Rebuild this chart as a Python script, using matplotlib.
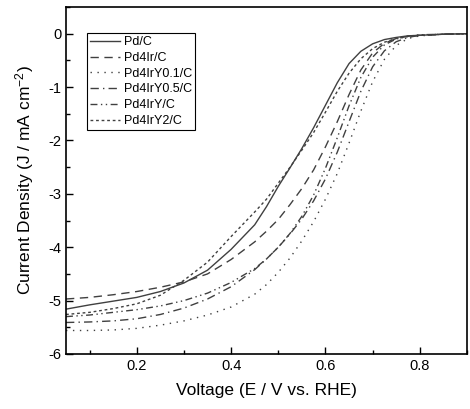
import numpy as np
import matplotlib
matplotlib.use("Agg")
import matplotlib.pyplot as plt
from matplotlib.ticker import MultipleLocator

plt.rcParams['font.family'] = ['Liberation Sans', 'DejaVu Sans']
plt.rcParams['axes.unicode_minus'] = False
plt.rcParams['mathtext.fontset'] = 'custom'
plt.rcParams['mathtext.rm'] = 'Liberation Sans'
plt.rcParams['mathtext.it'] = 'Liberation Sans'

# voltage grid (V vs. RHE)
voltage = [0.05, 0.1, 0.15, 0.2, 0.25, 0.3, 0.35, 0.4, 0.45, 0.475, 0.5, 0.525,
           0.55, 0.575, 0.6, 0.625, 0.65, 0.675, 0.7, 0.725, 0.75, 0.775, 0.8, 0.85, 0.9]

# current density (mA cm-2)
pd_c = [-5.16, -5.08, -5.01, -4.94, -4.83, -4.67, -4.43, -4.04, -3.58, -3.24, -2.86, -2.51,
        -2.15, -1.76, -1.34, -0.92, -0.56, -0.33, -0.19, -0.11, -0.07, -0.04, -0.03, -0.01, 0.0]
pd4ir_c = [-4.97, -4.94, -4.89, -4.83, -4.75, -4.65, -4.50, -4.23, -3.90, -3.70, -3.48, -3.20,
           -2.90, -2.55, -2.12, -1.65, -1.14, -0.68, -0.36, -0.18, -0.09, -0.05, -0.03, -0.01, 0.0]
pd4iry01_c = [-5.56, -5.56, -5.55, -5.52, -5.46, -5.38, -5.27, -5.12, -4.88, -4.70, -4.47, -4.20,
              -3.88, -3.52, -3.10, -2.62, -2.05, -1.45, -0.90, -0.48, -0.22, -0.09, -0.04, -0.01, 0.0]
pd4iry05_c = [-5.41, -5.40, -5.38, -5.34, -5.26, -5.14, -4.97, -4.74, -4.42, -4.22, -4.00, -3.75,
              -3.47, -3.13, -2.72, -2.22, -1.65, -1.08, -0.62, -0.32, -0.15, -0.07, -0.03, -0.01, 0.0]
pd4iry_c = [-5.30, -5.27, -5.22, -5.17, -5.10, -5.00, -4.86, -4.66, -4.40, -4.22, -4.00, -3.74,
            -3.42, -3.02, -2.52, -1.95, -1.35, -0.82, -0.44, -0.21, -0.10, -0.05, -0.02, -0.01, 0.0]
pd4iry2_c = [-5.26, -5.22, -5.15, -5.06, -4.90, -4.62, -4.28, -3.80, -3.34, -3.10, -2.80, -2.50,
             -2.18, -1.85, -1.47, -1.08, -0.74, -0.47, -0.28, -0.16, -0.09, -0.05, -0.03, -0.01, 0.0]

labels = ['Pd/C', 'Pd4Ir/C', 'Pd4IrY0.1/C', 'Pd4IrY0.5/C', 'Pd4IrY/C', 'Pd4IrY2/C']
series = [pd_c, pd4ir_c, pd4iry01_c, pd4iry05_c, pd4iry_c, pd4iry2_c]
styles = ['-', (0, (6, 4)), (0, (1, 4)), (0, (6, 3, 1, 3)), (0, (5, 2.5, 1, 2.5, 1, 2.5)), (0, (2, 2))]

fig = plt.figure(figsize=(4.70, 4.09), dpi=100)
ax = fig.add_axes([0.1404, 0.1345, 0.8532, 0.8484])

for y, lab, ls in zip(series, labels, styles):
    ax.plot(voltage, y, color='#404040', lw=1.0, linestyle=ls, label=lab)

ax.set_xlim(0.05, 0.9)
ax.set_ylim(-6, 0.5)
ax.xaxis.set_major_locator(MultipleLocator(0.2))
ax.xaxis.set_minor_locator(MultipleLocator(0.1))
ax.yaxis.set_major_locator(MultipleLocator(1))
ax.yaxis.set_minor_locator(MultipleLocator(0.5))
ax.tick_params(which='both', direction='in', top=False, right=False, labelsize=10.5)
ax.tick_params(which='major', length=5, width=1)
ax.tick_params(which='minor', length=3, width=1)
for s in ax.spines.values():
    s.set_linewidth(1.2)

ax.set_xlabel('Voltage (E / V vs. RHE)', fontsize=12.5, labelpad=7)
ax.set_ylabel('Current Density (J / mA cm$^{-2}$)', fontsize=12.5, labelpad=9)

leg = ax.legend(loc='upper left', bbox_to_anchor=(0.052, 0.925), fontsize=9,
                frameon=True, fancybox=False, edgecolor='black', framealpha=1,
                handlelength=2.4, handletextpad=0.3, borderpad=0.25, labelspacing=0.3,
                borderaxespad=0)
leg.get_frame().set_linewidth(0.8)

fig.savefig('out.png', dpi=100)
